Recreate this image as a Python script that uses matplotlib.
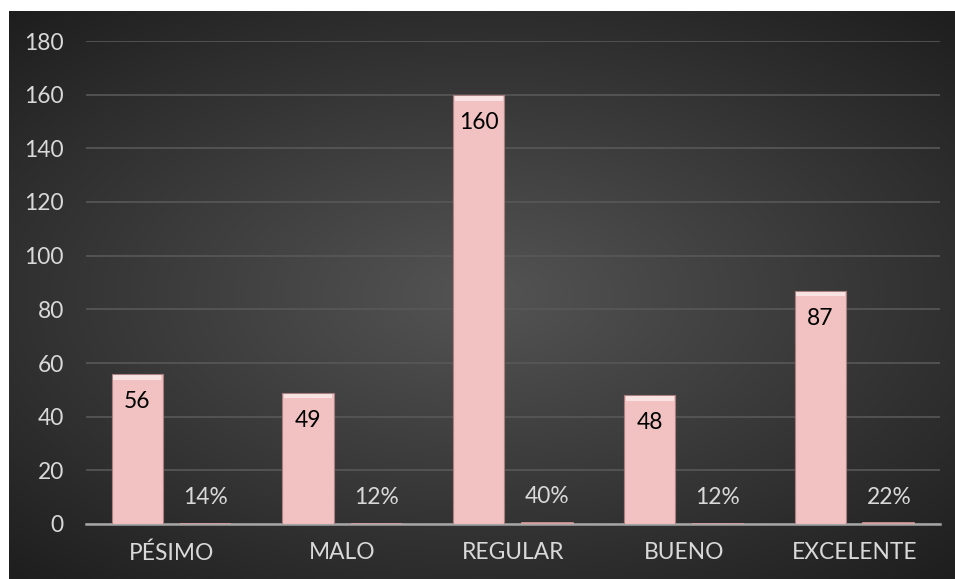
import numpy as np
import matplotlib.pyplot as plt

plt.rcParams['font.family'] = ['Lato', 'DejaVu Sans']

categorias = ['PÉSIMO', 'MALO', 'REGULAR', 'BUENO', 'EXCELENTE']
frecuencia = [56, 49, 160, 48, 87]
porcentaje = [0.14, 0.12, 0.40, 0.12, 0.22]
yticks = [0, 20, 40, 60, 80, 100, 120, 140, 160, 180]

W, H = 955, 579
fig = plt.figure(figsize=(W / 100, H / 100), dpi=100, facecolor='white')

# fondo con degradado radial
bg = fig.add_axes([9 / W, 0, (954 - 9) / W, (579 - 11) / H])
gx, gy = np.meshgrid(np.linspace(-1, 1, 400), np.linspace(-1, 1, 250))
r = np.clip(np.sqrt((gx * 0.95) ** 2 + (gy * 1.05) ** 2), 0, 1.4)
g = 0.33 - 0.15 * r
bg.imshow(np.dstack([g, g, g]), aspect='auto', extent=[0, 1, 0, 1])
bg.axis('off')

ax = fig.add_axes([86 / W, 1 - 524 / H, (940 - 86) / W, (524 - 41) / H])
ax.set_facecolor('none')

x = np.arange(len(categorias))
ancho = 0.3
pink = '#f2c1c1'

b1 = ax.bar(x - 0.2, frecuencia, ancho, color=pink, edgecolor='#a88080',
            linewidth=0.8, zorder=3)
# brillo superior (bisel)
ax.bar(x - 0.2, [1.8] * len(x), ancho * 0.94, bottom=np.array(frecuencia) - 2.2,
       color='white', alpha=0.55, linewidth=0, zorder=4)
b2 = ax.bar(x + 0.2, porcentaje, ancho, color=pink, edgecolor='#d9a0a0',
            linewidth=1.2, zorder=3)

for rect, v in zip(b1, frecuencia):
    ax.annotate(str(v), (rect.get_x() + rect.get_width() / 2, v),
                xytext=(0, -20), textcoords='offset points',
                ha='center', va='center', fontsize=16.4, color='black', zorder=5)
for rect, v in zip(b2, porcentaje):
    ax.annotate(f'{v:.0%}', (rect.get_x() + rect.get_width() / 2, v),
                xytext=(0, 19), textcoords='offset points',
                ha='center', va='center', fontsize=16.4, color='#d9d9d9', zorder=5)

ax.set_xlim(-0.5, len(x) - 0.5)
ax.set_ylim(0, 180)
ax.set_yticks(yticks)
ax.set_xticks(x)
ax.set_xticklabels(categorias)
ax.tick_params(axis='both', length=0, labelsize=16.4, colors='#d9d9d9')
ax.tick_params(axis='y', pad=16)
ax.tick_params(axis='x', pad=13)
ax.grid(axis='y', color='#585858', linewidth=1.2, zorder=0)
for s in ['top', 'right', 'left']:
    ax.spines[s].set_visible(False)
ax.spines['bottom'].set_color('#a6a6a6')
ax.spines['bottom'].set_linewidth(1.8)
ax.spines['bottom'].set_zorder(2)

fig.savefig('out.png', dpi=100)
